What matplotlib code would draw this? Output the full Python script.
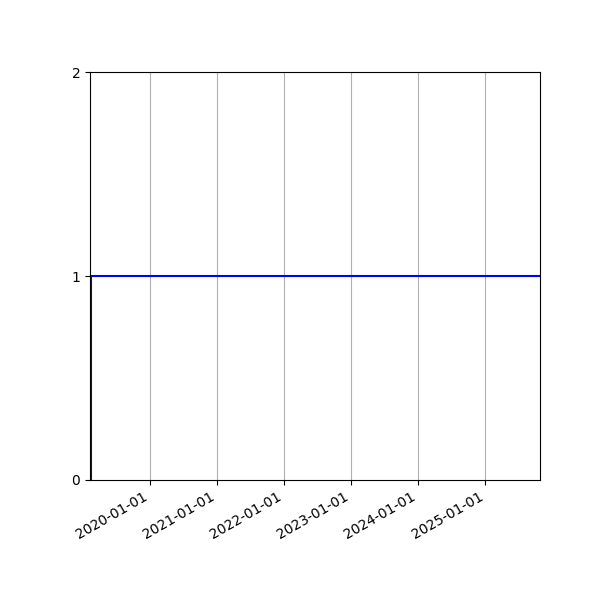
import matplotlib
matplotlib.use("Agg")
import matplotlib.pyplot as plt
import matplotlib.dates as mdates
import numpy as np

# series: off at the very start, on for the rest of the period
dates = np.array(["2019-02-08", "2019-02-14", "2025-10-25"], dtype="datetime64[D]")
values = [0, 1, 1]

fig, ax = plt.subplots(figsize=(6, 6), dpi=100)
fig.subplots_adjust(left=0.15, right=0.9, top=0.88, bottom=0.2)

ax.plot(dates, values, color="blue", drawstyle="steps-post")
ax.set_xlim(dates[0], dates[-1])
ax.set_ylim(0, 2)
ax.set_yticks([0, 1, 2])

ax.xaxis.set_major_locator(mdates.YearLocator())
ax.xaxis.set_major_formatter(mdates.DateFormatter("%Y-%m-%d"))
ax.grid(axis="x")
plt.setp(ax.get_xticklabels(), rotation=30, ha="right")

fig.savefig("out.png")
